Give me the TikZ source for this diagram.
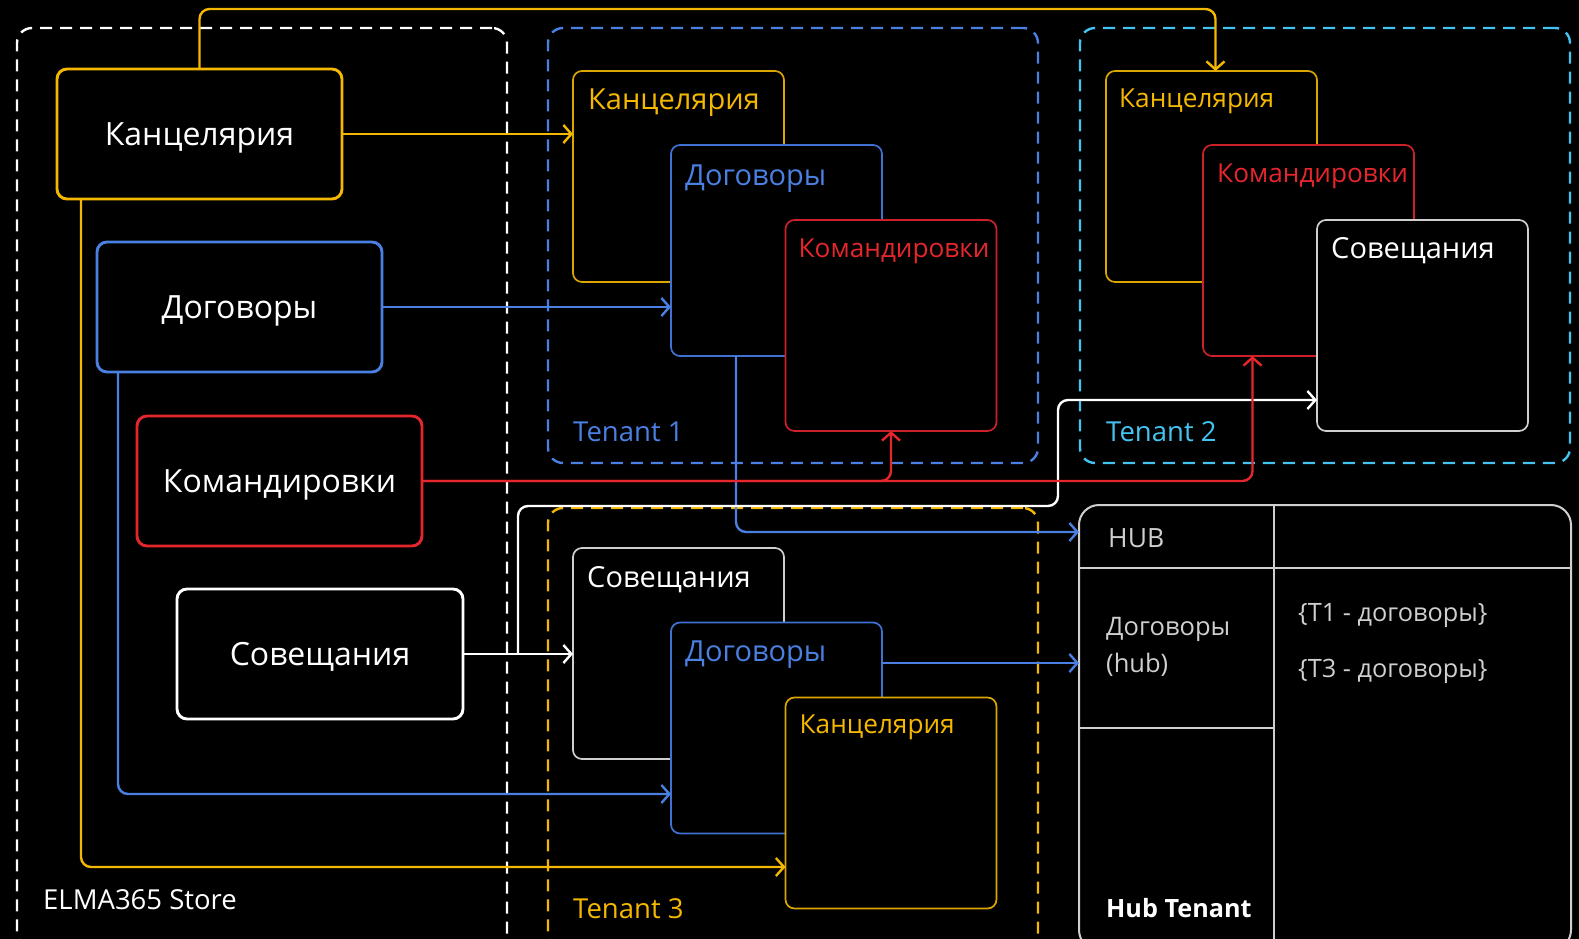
\documentclass[tikz,border=0pt]{standalone}
\usepackage{fontspec}
\setmainfont{Open Sans}
\usetikzlibrary{arrows.meta,calc}
\definecolor{cy}{HTML}{F5B800}
\definecolor{cyd}{HTML}{DCA600}
\definecolor{cb}{HTML}{4A80E2}
\definecolor{cbd}{HTML}{3F72D2}
\definecolor{cr}{HTML}{E5262D}
\definecolor{crd}{HTML}{CC2129}
\definecolor{cc}{HTML}{45C3F0}
\definecolor{cw}{HTML}{FFFFFF}
\definecolor{cg}{HTML}{CFCFCF}
\begin{document}
\begin{tikzpicture}[x=1pt,y=-1pt,
  container/.style={draw=#1, line width=2.4pt, dash pattern=on 12pt off 8pt, rounded corners=15pt, inner sep=0pt, outer sep=0pt},
  storebox/.style={draw=#1, line width=2.9pt, rounded corners=10pt, fill=black, minimum width=285pt, minimum height=130pt, text=white, font=\fontsize{32}{38}\selectfont, text height=23pt, text depth=0pt, inner sep=0pt, outer sep=0pt},
  card/.style={draw=#1, line width=1.7pt, rounded corners=9pt, fill=black, minimum width=211pt, minimum height=211pt, inner sep=0pt, outer sep=0pt},
  cardtext/.style={text=#1, anchor=base west, inner sep=0pt, font=\fontsize{29}{34}\selectfont},
  smalltext/.style={font=\fontsize{26.2}{32}\selectfont},
  lbl/.style={text=#1, anchor=base west, inner sep=0pt, font=\fontsize{27.5}{32}\selectfont},
  hubtext/.style={text=cg, anchor=base west, inner sep=0pt, font=\fontsize{25.3}{30}\selectfont},
  conn/.style={draw=#1, line width=2.4pt, rounded corners=10pt, -{Straight Barb[length=8pt,width=18pt]}},
  hubline/.style={draw=cg, line width=2pt}
]
\fill[black] (0,0) rectangle (1579,939);
\useasboundingbox (0,0) rectangle (1579,939);
\clip (0,0) rectangle (1579,939);

% containers
\node[container=white, minimum width=490pt, minimum height=920pt] (store) at (262,488) {};
\node[container=cb, minimum width=490pt, minimum height=435pt] (ten1) at (793,245.5) {};
\node[container=cc, minimum width=490pt, minimum height=435pt] (ten2) at (1325,245.5) {};
\node[container=cy, minimum width=490pt, minimum height=440pt] (ten3) at (793,728) {};

% hub tenant
\node[draw=cg, line width=2pt, rounded corners=20pt, minimum width=492pt, minimum height=445pt, inner sep=0pt, outer sep=0pt] (hub) at (1325,727.5) {};
\draw[hubline] ($(hub.north west)+(195,0)$) -- ($(hub.south west)+(195,0)$);
\draw[hubline] ($(hub.north west)+(0,63)$) -- ($(hub.north east)+(0,63)$);
\draw[hubline] ($(hub.north west)+(0,223)$) -- ($(hub.north west)+(195,223)$);
\node[hubtext, font=\fontsize{26.5}{30}\selectfont] (hubh) at (1108,547) {HUB};
\node[hubtext, font=\fontsize{25.5}{30}\selectfont] (hubd1) at (1106,635) {Договоры};
\node[hubtext, font=\fontsize{25.5}{30}\selectfont] (hubd2) at (1106,672) {(hub)};
\node[hubtext] (hubt1) at (1298,621) {\{T1 - договоры\}};
\node[hubtext] (hubt3) at (1298,677) {\{T3 - договоры\}};
\node[hubtext, text=white, font=\bfseries\fontsize{25.2}{30}\selectfont] (hubl) at (1106,917) {Hub Tenant};

% store boxes
\node[storebox=cy] (sK) at (199.5,134) {Канцелярия};
\node[storebox=cb] (sD) at (239.5,307) {Договоры};
\node[storebox=cr] (sKom) at (279.5,481) {Командировки};
\node[storebox=white, minimum width=286pt] (sS) at (320,654) {Совещания};

% tenant 1 cards
\node[card=cyd] (t1K) at (678.5,176.5) {};
\node[cardtext=cy] (t1Kl) at ($(t1K.north west)+(15,39)$) {Канцелярия};
\node[card=cbd] (t1D) at (776.5,250.5) {};
\node[cardtext=cb] (t1Dl) at ($(t1D.north west)+(14,40)$) {Договоры};
\node[card=crd] (t1Kom) at (891,325.5) {};
\node[cardtext=cr, smalltext] (t1Koml) at ($(t1Kom.north west)+(13,37)$) {Командировки};

% tenant 2 cards
\node[card=cyd] (t2K) at (1211.5,176.5) {};
\node[cardtext=cy, smalltext] (t2Kl) at ($(t2K.north west)+(13,37)$) {Канцелярия};
\node[card=crd] (t2Kom) at (1308.5,250.5) {};
\node[cardtext=cr, smalltext] (t2Koml) at ($(t2Kom.north west)+(14,37)$) {Командировки};
\node[card=cg] (t2S) at (1422.5,325.5) {};
\node[cardtext=white] (t2Sl) at ($(t2S.north west)+(14,38)$) {Совещания};

% tenant 3 cards
\node[card=cg] (t3S) at (678.5,653.5) {};
\node[cardtext=white] (t3Sl) at ($(t3S.north west)+(14,39)$) {Совещания};
\node[card=cbd] (t3D) at (776.5,728) {};
\node[cardtext=cb] (t3Dl) at ($(t3D.north west)+(14,39)$) {Договоры};
\node[card=cyd] (t3K) at (891,803) {};
\node[cardtext=cy, smalltext] (t3Kl) at ($(t3K.north west)+(14,36)$) {Канцелярия};

% labels
\node[lbl=white] (storel) at (43,909) {ELMA365 Store};
\node[lbl=cb] (ten1l) at (573,441) {Tenant 1};
\node[lbl=cc] (ten2l) at (1106,441) {Tenant 2};
\node[lbl=cy] (ten3l) at (573,918) {Tenant 3};

% connectors: blue
\coordinate (t3De) at ($(t3D.east)+(0,-65)$);
\draw[conn=cb] (sD.east) -- (sD.east -| t1D.west);
\draw[conn=cb] ($(sD.south west)+(21,0)$) |- ($(t3D.west)+(0,66)$);
\draw[conn=cb] ($(t1D.south west)+(65,0)$) |- ($(hub.north west)+(0,27)$);
\draw[conn=cb] (t3De) -- (t3De -| hub.west);

% connectors: white
\coordinate (wsplit) at ($(sS.east)+(55,0)$);
\coordinate (wbend) at (1058,506);
\draw[conn=cw] (sS.east) -- (sS.east -| t3S.west);
\draw[conn=cw] (wsplit) |- (wbend) |- ($(t2S.west)+(0,74.5)$);

% connectors: yellow
\draw[conn=cy] (sK.east) -- (sK.east -| t1K.west);
\draw[conn=cy] (sK.north) -- ++(0,-60) -| ($(t2K.north)+(4,0)$);
\draw[conn=cy] ($(sK.south west)+(24,0)$) |- ($(t3K.west)+(0,64)$);

% connectors: red
\draw[conn=cr] (sKom.east) -| (t1Kom.south);
\draw[conn=cr] (sKom.east) -| ($(t2Kom.south)+(-56,0)$);
\end{tikzpicture}
\end{document}
